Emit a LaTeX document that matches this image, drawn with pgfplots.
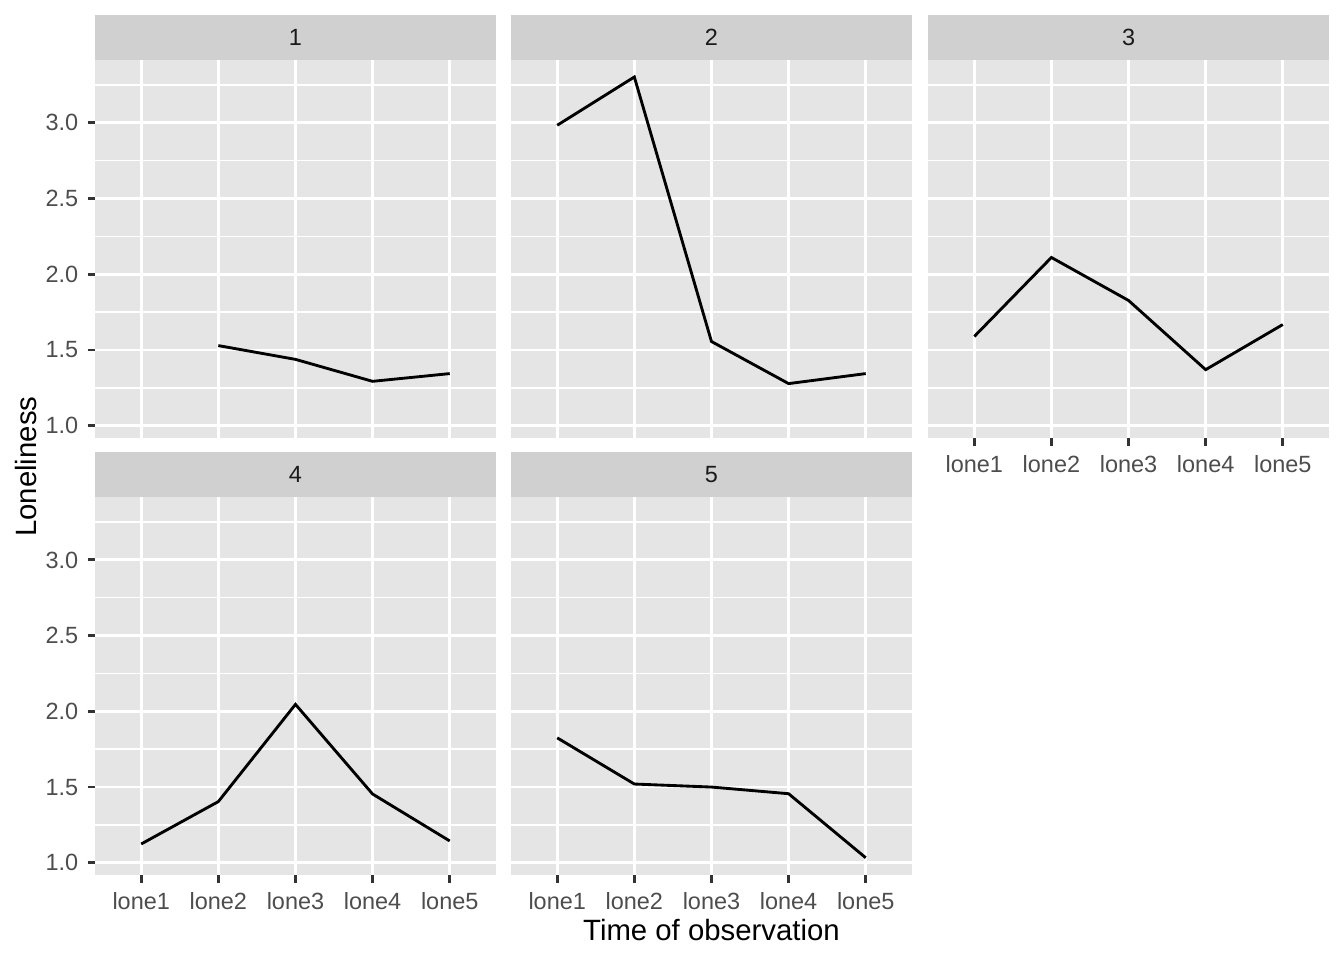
\documentclass[border=0pt]{standalone}
\usepackage{pgfplots}
\pgfplotsset{compat=1.18}
\usepackage{fontspec}
\setmainfont{Liberation Sans}
\definecolor{panelbg}{HTML}{E5E5E5}
\definecolor{stripbg}{HTML}{D0D0D0}
\definecolor{ticktext}{HTML}{4D4D4D}
\definecolor{tickcol}{HTML}{333333}
\definecolor{striptext}{HTML}{1A1A1A}

\pgfplotsset{
  facet/.style={
    scale only axis, width=150.4pt, height=141.9pt,
    anchor=north west, clip=false,
    xmin=0.4, xmax=5.6, ymin=0.916, ymax=3.415,
    xtick={1,2,3,4,5}, xticklabels={lone1,lone2,lone3,lone4,lone5},
    ytick={1,1.5,2,2.5,3}, minor ytick={1.25,1.75,2.25,2.75,3.25},
    grid=both,
    major grid style={white, line width=1.07pt},
    minor grid style={white, line width=0.53pt},
    axis background/.style={fill=panelbg},
    axis line style={draw=none},
    tick align=outside, major tick length=2.75pt, minor tick length=0pt,
    tick style={tickcol, line width=1.07pt},
    xtick pos=bottom, ytick pos=left,
    tick label style={font=\fontsize{8.8}{10}\selectfont, text=ticktext},
    /pgf/number format/assume math mode=true,
    yticklabel style={/pgf/number format/.cd, fixed, fixed zerofill, precision=1},
  },
  nox/.style={xticklabels={}, xtick style={draw=none}},
  noy/.style={yticklabels={}, ytick style={draw=none}},
  series/.style={black, line width=1.07pt},
}
\newcommand{\strip}[1]{%
  \fill[stripbg] (rel axis cs:0,1) rectangle ([yshift=16.9pt]rel axis cs:1,1);
  \node[font=\fontsize{8.8}{10}\selectfont, text=striptext] at ([yshift=8.45pt]rel axis cs:0.5,1) {#1};
}

\begin{document}
\begin{tikzpicture}
\useasboundingbox (0,0) rectangle (504pt,-360pt);

% panel 1
\begin{axis}[facet, nox, at={(35.6pt,-22.5pt)}]
  \addplot[series] coordinates {(2,1.529) (3,1.438) (4,1.293) (5,1.344)};
  \strip{1}
\end{axis}

% panel 2
\begin{axis}[facet, nox, noy, at={(191.6pt,-22.5pt)}]
  \addplot[series] coordinates {(1,2.984) (2,3.303) (3,1.556) (4,1.278) (5,1.344)};
  \strip{2}
\end{axis}

% panel 3
\begin{axis}[facet, noy, at={(348pt,-22.5pt)}]
  \addplot[series] coordinates {(1,1.589) (2,2.111) (3,1.827) (4,1.370) (5,1.668)};
  \strip{3}
\end{axis}

% panel 4
\begin{axis}[facet, at={(35.6pt,-186.4pt)}]
  \addplot[series] coordinates {(1,1.124) (2,1.404) (3,2.046) (4,1.454) (5,1.144)};
  \strip{4}
\end{axis}

% panel 5
\begin{axis}[facet, noy, at={(191.6pt,-186.4pt)}]
  \addplot[series] coordinates {(1,1.825) (2,1.520) (3,1.500) (4,1.456) (5,1.033)};
  \strip{5}
\end{axis}

\node[rotate=90, font=\fontsize{11}{13}\selectfont] at (9.7pt,-175pt) {Loneliness};
\node[font=\fontsize{11}{13}\selectfont] at (266.8pt,-348.8pt) {Time of observation};
\end{tikzpicture}
\end{document}
